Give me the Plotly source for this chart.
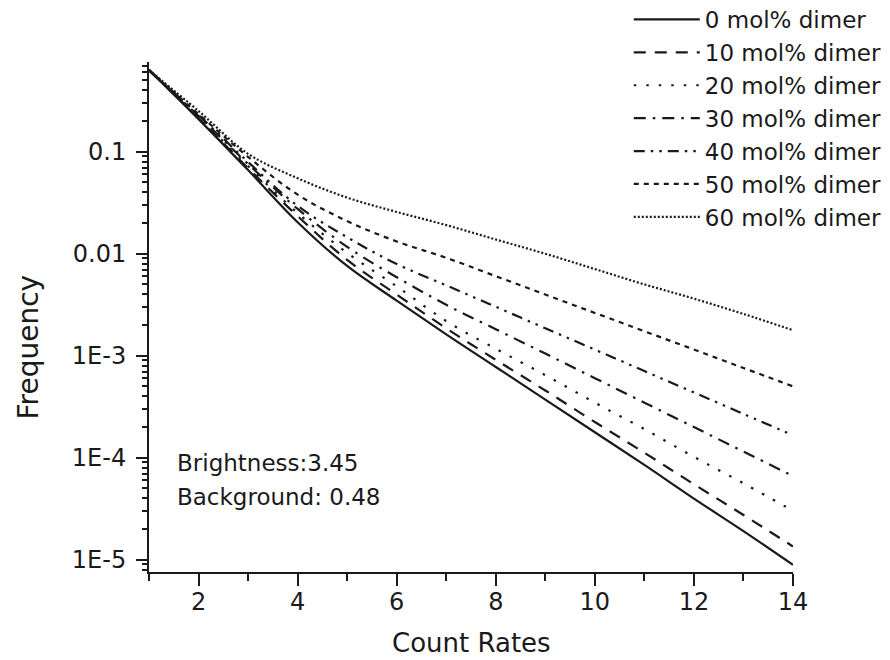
import plotly.graph_objects as go

count_rates = [1, 2, 3, 4, 5, 6, 7, 8, 9, 10, 11, 12, 13, 14]

series_names = ["0 mol% dimer", "10 mol% dimer", "20 mol% dimer", "30 mol% dimer",
                "40 mol% dimer", "50 mol% dimer", "60 mol% dimer"]

freq_0 = [0.631, 0.209, 0.0661, 0.0204, 0.00759, 0.00347, 0.00162, 7.76e-4, 3.72e-4,
          1.78e-4, 8.51e-5, 3.98e-5, 1.91e-5, 8.91e-6]
freq_10 = [0.631, 0.214, 0.0692, 0.0234, 0.00871, 0.00398, 0.00186, 9.12e-4, 4.57e-4,
           2.24e-4, 1.12e-4, 5.50e-5, 2.75e-5, 1.35e-5]
freq_20 = [0.631, 0.219, 0.0724, 0.0251, 0.0102, 0.00479, 0.00219, 0.00117, 6.46e-4,
           3.47e-4, 1.91e-4, 1.02e-4, 5.62e-5, 3.02e-5]
freq_30 = [0.631, 0.224, 0.0759, 0.0275, 0.0117, 0.00589, 0.00316, 0.00182, 0.00105,
           6.03e-4, 3.47e-4, 2.00e-4, 1.15e-4, 6.61e-5]
freq_40 = [0.631, 0.229, 0.0794, 0.0295, 0.0145, 0.00794, 0.00490, 0.00302, 0.00186,
           0.00115, 7.08e-4, 4.37e-4, 2.69e-4, 1.66e-4]
freq_50 = [0.631, 0.234, 0.0891, 0.0380, 0.0209, 0.0132, 0.00912, 0.00603, 0.00398,
           0.00263, 0.00174, 0.00115, 7.59e-4, 5.01e-4]
freq_60 = [0.631, 0.251, 0.0955, 0.0550, 0.0355, 0.0257, 0.0191, 0.0138, 0.0100,
           0.00708, 0.00501, 0.00363, 0.00257, 0.00178]

all_series = [freq_0, freq_10, freq_20, freq_30, freq_40, freq_50, freq_60]

y_tick_vals = [0.1, 0.01, 1e-3, 1e-4, 1e-5]
y_tick_text = ["0.1", "0.01", "1E-3", "1E-4", "1E-5"]
x_tick_vals = [2, 4, 6, 8, 10, 12, 14]
x_minor_vals = [1, 3, 5, 7, 9, 11, 13]

dashes = ["solid", "12px,9px", "2.5px,10px", "12px,7px,2.5px,7px",
          "11px,6px,2.5px,6px,2.5px,6px", "5px,5px", "2px,2px"]

FONT = "DejaVu Sans, Liberation Sans, Arial, sans-serif"
INK = "#1a1a1a"

fig = go.Figure()
for name, vals, dash in zip(series_names, all_series, dashes):
    fig.add_trace(go.Scatter(
        x=count_rates, y=vals, name=name, mode="lines",
        line=dict(color=INK, width=2.2, dash=dash, shape="spline", smoothing=1.0),
    ))

minor_y = []
for e in range(-6, 1):
    for k in range(2, 10):
        v = k * 10.0 ** e
        if 7.6e-6 < v < 0.76:
            minor_y.append(v)

# the page body adds an 8px offset; margins are set so the plot lands where the reference has it
fig.update_layout(
    width=890, height=660,
    margin=dict(l=141, r=105, t=0, b=96, autoexpand=False),
    paper_bgcolor="white", plot_bgcolor="white",
    font=dict(family=FONT, size=24, color=INK),
    showlegend=True,
    legend=dict(
        x=0.745, y=1.0177, xanchor="left", yanchor="top",
        font=dict(family=FONT, size=23, color=INK),
        bgcolor="rgba(0,0,0,0)", itemwidth=66,
    ),
    xaxis=dict(
        range=[1, 14], tickmode="array", tickvals=x_tick_vals, automargin=False,
        ticks="outside", ticklen=12, tickwidth=2, tickcolor=INK, ticklabelstandoff=-5,
        showline=True, linecolor=INK, linewidth=2, showgrid=False, zeroline=False,
        tickfont=dict(family=FONT, size=24, color=INK),
        minor=dict(tickmode="array", tickvals=x_minor_vals,
                   ticks="outside", ticklen=7, tickwidth=2, tickcolor=INK, showgrid=False),
    ),
    yaxis=dict(
        type="log", range=[-5.12, -0.12], domain=[0, 0.90426], automargin=False,
        tickmode="array", tickvals=y_tick_vals, ticktext=y_tick_text,
        ticks="outside", ticklen=11, tickwidth=2, tickcolor=INK, ticklabelstandoff=5,
        showline=True, linecolor=INK, linewidth=2, showgrid=False, zeroline=False,
        tickfont=dict(family=FONT, size=24, color=INK),
        minor=dict(tickmode="array", tickvals=minor_y,
                   ticks="outside", ticklen=5, tickwidth=1.5, tickcolor=INK, showgrid=False),
    ),
    annotations=[
        dict(xref="paper", yref="paper", x=0.0404, y=0.1933, xanchor="left", yanchor="middle",
             text="Brightness:3.45", showarrow=False, align="left",
             font=dict(family=FONT, size=23, color=INK)),
        dict(xref="paper", yref="paper", x=0.0404, y=0.1330, xanchor="left", yanchor="middle",
             text="Background: 0.48", showarrow=False, align="left",
             font=dict(family=FONT, size=23, color=INK)),
        dict(xref="paper", yref="paper", x=0.5, y=-0.1259, xanchor="center", yanchor="middle",
             text="Count Rates", showarrow=False,
             font=dict(family=FONT, size=26, color=INK)),
        dict(xref="paper", yref="paper", x=-0.1871, y=0.399, xanchor="center", yanchor="middle",
             text="Frequency", showarrow=False, textangle=-90,
             font=dict(family=FONT, size=28, color=INK)),
    ],
)

fig.write_html("out.html")
